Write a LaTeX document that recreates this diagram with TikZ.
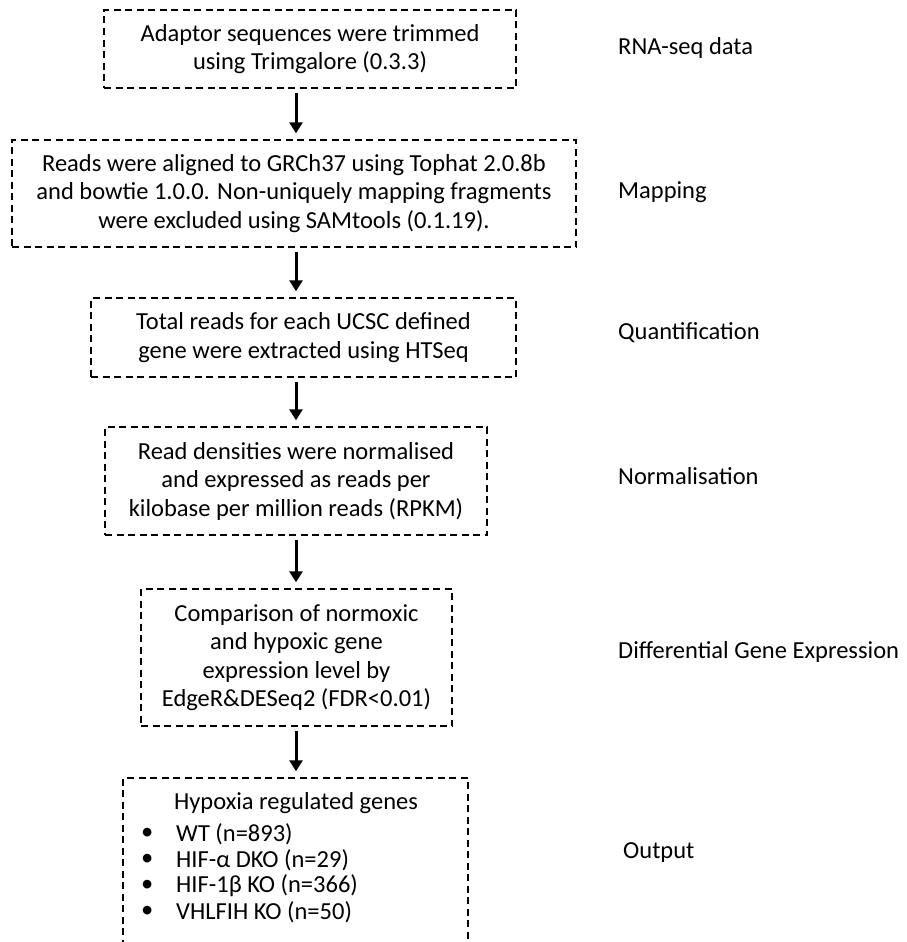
\documentclass[tikz,border=0pt]{standalone}
\usepackage{fontspec}
\setmainfont{Carlito}
\usetikzlibrary{arrows.meta}

\begin{document}
\begin{tikzpicture}[x=1pt,y=-1pt,
    stage/.style={draw,line width=1.4pt,dash pattern=on 7pt off 4.5pt,align=center,inner sep=0pt,
      font=\fontsize{24.5}{28.5}\selectfont},
    flow/.style={-{Triangle[width=13pt,length=11pt]},line width=3pt,shorten <=4pt,shorten >=6pt},
    lbl/.style={anchor=west,inner sep=0pt,font=\fontsize{24.5}{28.5}\selectfont},
    item/.style={anchor=west,inner sep=0pt,font=\fontsize{24.5}{28.5}\selectfont}]
\useasboundingbox (0,0) rectangle (906,942);
% pipeline steps
\node[stage,minimum width=412pt,minimum height=78pt] (trim) at (310,49)
    {Adaptor sequences were trimmed\\using Trimgalore (0.3.3)};
\node[stage,minimum width=564pt,minimum height=107pt] (map) at (294,193.5)
    {Reads were aligned to GRCh37 using Tophat 2.0.8b\\and bowtie 1.0.0. Non-uniquely mapping fragments\\were excluded using SAMtools (0.1.19).};
\node[stage,minimum width=425pt,minimum height=79pt] (quant) at (303.5,337.5)
    {Total reads for each UCSC defined\\gene were extracted using HTSeq};
\node[stage,minimum width=382pt,minimum height=108pt] (norm) at (296,481)
    {Read densities were normalised\\and expressed as reads per\\kilobase per million reads (RPKM)};
\node[stage,minimum width=311pt,minimum height=137pt] (diff) at (296.5,657.5)
    {Comparison of normoxic\\and hypoxic gene\\expression level by\\EdgeR\&DESeq2 (FDR<0.01)};
\node[stage,minimum width=345pt,minimum height=172pt] (out) at (295.5,864) {};
\node[item,anchor=center] (outhead) at (296,803) {Hypoxia regulated genes};
\foreach \y/\txt [count=\i] in {834/WT (n=893),860/HIF-α DKO (n=29),886/HIF-1β KO (n=366),912/VHLFIH KO (n=50)}
{
    \node[item] (bul\i) at (141,\y) {•};
    \node[item] (gene\i) at (176,\y) {\txt};
}
% arrows
\coordinate (ax) at (296,0);
\draw[flow] (trim.south -| ax) -- (map.north -| ax);
\draw[flow] (map.south -| ax) -- (quant.north -| ax);
\draw[flow] (quant.south -| ax) -- (norm.north -| ax);
\draw[flow] (norm.south -| ax) -- (diff.north -| ax);
\draw[flow] (diff.south -| ax) -- (out.north -| ax);
% stage names
\node[lbl] (lbltrim) at (618,48) {RNA-seq data};
\node[lbl] (lblmap) at (618,192) {Mapping};
\node[lbl] (lblquant) at (618,333) {Quantification};
\node[lbl] (lblnorm) at (618,476) {Normalisation};
\node[lbl] (lbldiff) at (618,652) {Differential Gene Expression};
\node[lbl] (lblout) at (623,853) {Output};
\end{tikzpicture}
\end{document}
